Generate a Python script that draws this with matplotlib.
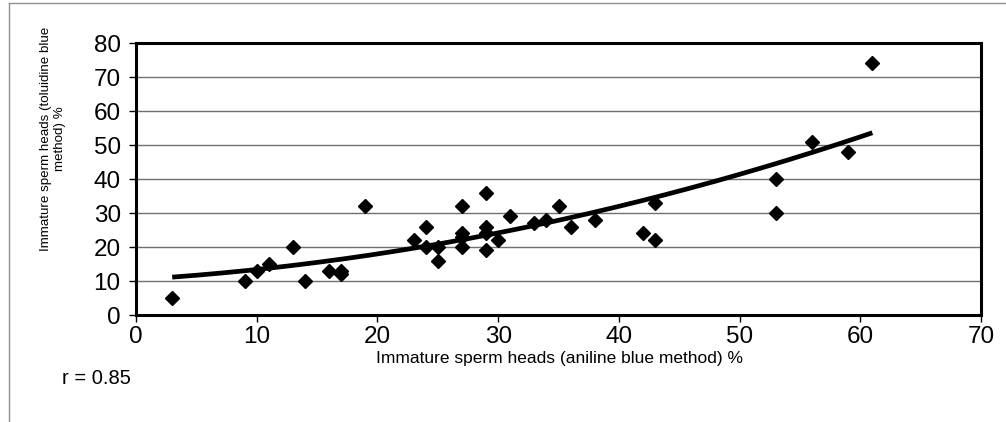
import numpy as np
import matplotlib
matplotlib.use("Agg")
import matplotlib.pyplot as plt
from matplotlib.lines import Line2D

# aniline blue % (x) vs toluidine blue % (y)
aniline = [3, 9, 10, 11, 13, 14, 16, 17, 17, 19, 23, 24, 24, 25, 25,
           27, 27, 27, 27, 29, 29, 29, 29, 30, 31, 33, 34, 35, 36, 38,
           42, 43, 43, 53, 53, 56, 59, 61]
toluidine = [5, 10, 13, 15, 20, 10, 13, 12, 13, 32, 22, 26, 20, 20, 16,
             32, 24, 20, 23, 36, 26, 24, 19, 22, 29, 27, 28, 32, 26, 28,
             24, 33, 22, 40, 30, 51, 48, 74]
r_text = "r = 0.85"

plt.rcParams['font.family'] = ['Liberation Sans', 'DejaVu Sans']

W, H = 1006, 422
fig = plt.figure(figsize=(W/100, H/100), dpi=100)
ax = fig.add_axes([136/W, 1-315/H, (981-136)/W, (315-43)/H])

# quadratic trendline (like excel's polynomial fit)
coef = np.polyfit(aniline, toluidine, 2)
xs = np.linspace(min(aniline), max(aniline), 200)
ax.plot(xs, np.polyval(coef, xs), color='black', lw=3.4, solid_capstyle='butt', zorder=3)

ax.plot(aniline, toluidine, linestyle='none', marker='D', ms=7, color='black', zorder=4)

ax.set_xlim(0, 70)
ax.set_ylim(0, 80)
ax.set_xticks(range(0, 71, 10))
ax.set_yticks(range(0, 81, 10))
ax.yaxis.grid(True, color='#707070', lw=1)
ax.set_axisbelow(True)
for s in ax.spines.values():
    s.set_linewidth(2.2)
ax.tick_params(direction='out', length=5, width=1, labelsize=17.5)
ax.tick_params(axis='x', pad=3)
ax.tick_params(axis='y', pad=6)

# axis titles placed like in the original excel chart
fig.text(559/W, 1-359/H, "Immature sperm heads (aniline blue method) %",
         fontsize=12.5, ha='center', va='center')
fig.text(53/W, 1-139/H, "Immature sperm heads (toluidine blue\nmethod) %",
         fontsize=9.6, ha='center', va='center', rotation=90, multialignment='center')
fig.text(62/W, 1-379/H, r_text, fontsize=14.5, va='center', ha='left')

# thin chart border
fig.add_artist(Line2D([9/W, 9/W], [0, 1-3/H], color='#909090', lw=1))
fig.add_artist(Line2D([9/W, 1], [1-3/H, 1-3/H], color='#909090', lw=1))

fig.savefig("out.png", dpi=100)
